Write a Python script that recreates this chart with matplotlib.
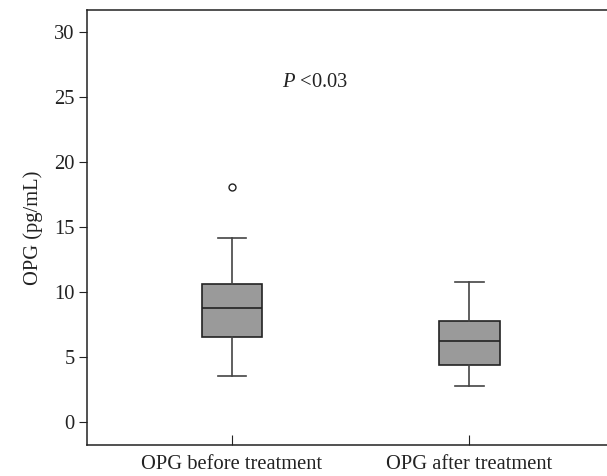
import matplotlib.pyplot as plt

plt.rcParams['font.family'] = ['Liberation Serif', 'DejaVu Serif']
plt.rcParams['mathtext.fontset'] = 'custom'
plt.rcParams['mathtext.it'] = 'Liberation Serif:italic'
plt.rcParams['mathtext.rm'] = 'Liberation Serif'

groups = ['OPG before treatment', 'OPG after treatment']
q1 = [6.56, 4.41]
median = [8.8, 6.2]
q3 = [10.65, 7.74]
whislo = [3.54, 2.77]
whishi = [14.15, 10.77]
outliers = [[18.1], []]

stats = []
for i in range(len(groups)):
    stats.append({'label': groups[i], 'q1': q1[i], 'med': median[i], 'q3': q3[i],
                  'whislo': whislo[i], 'whishi': whishi[i], 'fliers': outliers[i]})

fig = plt.figure(figsize=(6.07, 4.76), dpi=100)
ax = fig.add_axes([87/607, 31/476, 520/607, 435/476])

ax.bxp(stats, positions=[1, 2], widths=0.255, patch_artist=True,
       capwidths=0.12,
       boxprops=dict(facecolor='#9a9a9a', edgecolor='#222222', linewidth=1.2),
       medianprops=dict(color='#222222', linewidth=1.2),
       whiskerprops=dict(color='#444444', linewidth=1.2),
       capprops=dict(color='#444444', linewidth=1.2),
       flierprops=dict(marker='o', markerfacecolor='white', markeredgecolor='#222222',
                       markersize=5, markeredgewidth=1.0))

ax.set_xlim(0.39, 2.58)
ax.set_ylim(-1.77, 31.7)
ax.set_yticks([0, 5, 10, 15, 20, 25, 30])
ax.tick_params(axis='y', direction='out', length=6, labelsize=14.8, colors='#222222', pad=3)
ax.tick_params(axis='x', direction='in', length=7, labelsize=14.8, colors='#222222', pad=7)
ax.spines['right'].set_visible(False)
for s in ['left', 'top', 'bottom']:
    ax.spines[s].set_color('#222222')
    ax.spines[s].set_linewidth(1.1)
ax.set_ylabel('OPG (pg/mL)', fontsize=14.8, color='#222222', labelpad=8)

ax.text(1.35, 26.1, r'$P$ <0.03', fontsize=14.8, ha='center', va='center', color='#222222')

fig.savefig('out.png', dpi=100)
